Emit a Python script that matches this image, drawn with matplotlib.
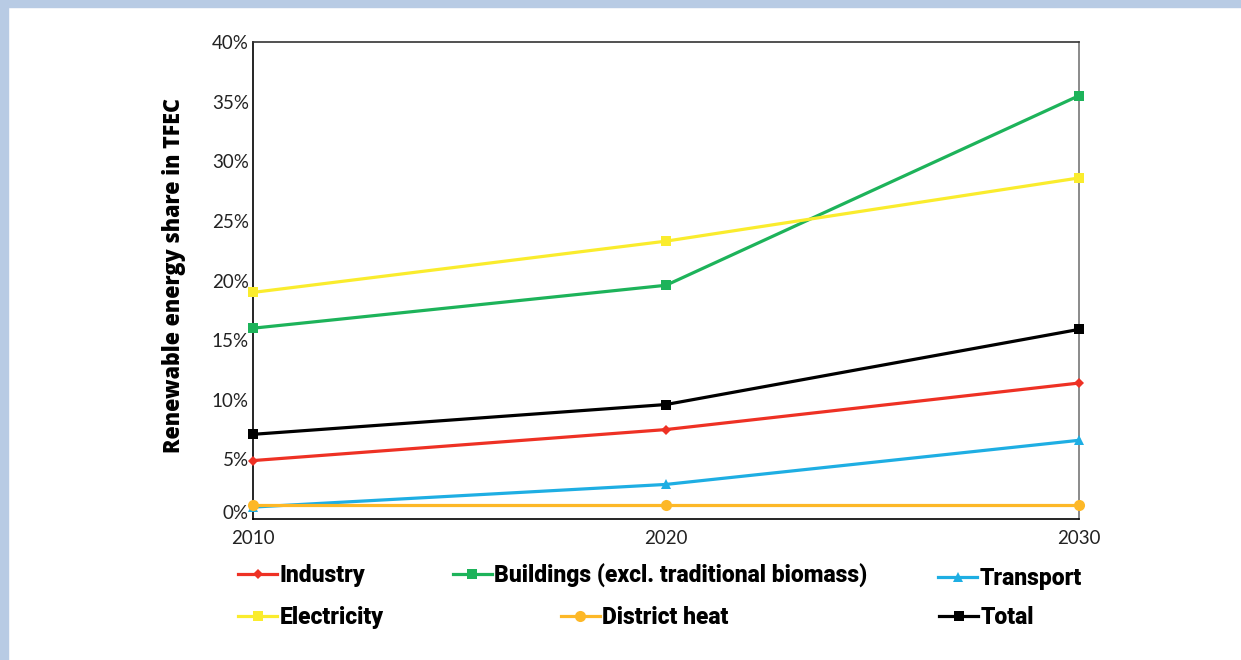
import matplotlib
matplotlib.use('Agg')
import matplotlib.pyplot as plt
import matplotlib.transforms as mtransforms
from matplotlib.patches import Rectangle

years = [2010, 2020, 2030]
series = ['Industry', 'Buildings (excl. traditional biomass)', 'Transport',
          'Electricity', 'District heat', 'Total']
industry = [4.9, 7.5, 11.4]
buildings = [16.0, 19.6, 35.5]
transport = [1.0, 2.9, 6.6]
electricity = [19.0, 23.3, 28.6]
district_heat = [1.2, 1.2, 1.2]
total = [7.1, 9.6, 15.9]

values = [industry, buildings, transport, electricity, district_heat, total]
colors = ['#EE3124', '#1DB35A', '#1EAEE3', '#FAEC2D', '#FDB827', '#000000']
markers = ['D', 's', '^', 's', 'o', 's']
msizes = [5.5, 7, 7.5, 7, 8, 7]

# legend anchor positions (figure coords): handle left edge, text centre
leg_pos = [(0.192, 0.128), (0.365, 0.128), (0.756, 0.124),
           (0.192, 0.065), (0.452, 0.065), (0.757, 0.065)]

plt.rcParams['font.family'] = ['Lato', 'DejaVu Sans']

fig = plt.figure(figsize=(12.41, 6.60), dpi=100)
fig.patches.append(Rectangle((0, 1 - 7 / 660), 1, 7 / 660, transform=fig.transFigure,
                             color='#B8CBE4', zorder=0))
fig.patches.append(Rectangle((0, 0), 8 / 1241, 1, transform=fig.transFigure,
                             color='#B8CBE4', zorder=0))

ax = fig.add_axes([253 / 1241, 1 - 519 / 660, 826 / 1241, 477 / 660])
lines = []
for v, c, m, ms, l in zip(values, colors, markers, msizes, series):
    h, = ax.plot(years, v, color=c, marker=m, markersize=ms, linewidth=2.3,
                 markeredgewidth=0, label=l, clip_on=False, zorder=3)
    lines.append(h)

ax.set_xlim(2010, 2030)
ax.set_ylim(0, 40)
ax.set_xticks(years)
ax.set_yticks(range(0, 41, 5))
ax.set_yticklabels([f'{t}%' for t in range(0, 41, 5)])
ax.tick_params(length=0, labelsize=13.5, colors='#222222', pad=3)
ax.tick_params(axis='x', pad=8)
# nudge the 0% label up, clear of the year labels
zero = ax.get_yticklabels()[0]
zero.set_transform(zero.get_transform() +
                   mtransforms.ScaledTranslation(0, 7 / 100, fig.dpi_scale_trans))

ax.spines['left'].set_color('#000000')
ax.spines['bottom'].set_color('#000000')
ax.spines['top'].set_color('#333333')
ax.spines['right'].set_color('#777777')
for s in ax.spines.values():
    s.set_linewidth(1.2)
ax.set_ylabel('Renewable energy share in TFEC', fontsize=15.5, fontweight='heavy',
              family='Open Sans')
ax.yaxis.set_label_coords(-0.081, 0.51)

for h, (x, y) in zip(lines, leg_pos):
    fig.legend(handles=[h], loc='center left', bbox_to_anchor=(x, y),
               frameon=False, borderpad=0, borderaxespad=0, handlelength=1.7,
               handletextpad=0.1, prop={'family': 'Roboto', 'weight': 'heavy',
                                        'size': 16.5})

fig.savefig('out.png', dpi=100)
